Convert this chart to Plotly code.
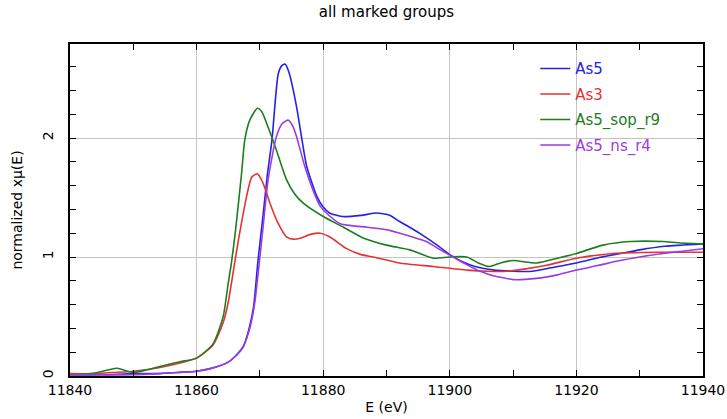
import plotly.graph_objects as go

# ---- data ----
as5_E = [11840, 11845, 11850, 11854, 11857, 11860, 11862, 11864.8, 11866, 11867.4, 11868.3, 11869,
         11869.7, 11870.5, 11871.2, 11871.9, 11872.9, 11873.5, 11874, 11874.6, 11875.8, 11876.6,
         11877.4, 11879, 11880, 11881, 11883, 11886, 11888.4, 11890.5, 11892, 11894, 11895.8, 11898,
         11900, 11902, 11904, 11907, 11910, 11913, 11916, 11920, 11924, 11927, 11930, 11934, 11940]
as5_mu = [0.01, 0.01, 0.02, 0.02, 0.03, 0.04, 0.06, 0.11, 0.16, 0.25, 0.40, 0.58,
          0.97, 1.35, 1.70, 1.98, 2.54, 2.61, 2.62, 2.55, 2.26, 2.00,
          1.76, 1.51, 1.42, 1.37, 1.34, 1.35, 1.37, 1.35, 1.30, 1.24, 1.18, 1.10,
          1.02, 0.96, 0.92, 0.89, 0.88, 0.88, 0.91, 0.95, 1.00, 1.03, 1.06, 1.09, 1.11]

as3_E = [11840, 11843.5, 11847, 11850, 11854, 11857.4, 11860, 11862.6, 11864.2, 11865, 11865.8,
         11866.6, 11867.9, 11868.7, 11869.6, 11870.5, 11871.6, 11872.9, 11874.2, 11875.3, 11876.5,
         11878, 11879.5, 11881, 11883.7, 11886, 11887.9, 11892, 11897.4, 11902.7, 11906, 11909,
         11912, 11915.3, 11920, 11925.8, 11933, 11940]
as3_mu = [0.02, 0.02, 0.03, 0.04, 0.07, 0.11, 0.15, 0.26, 0.45, 0.62, 0.88,
          1.14, 1.51, 1.67, 1.70, 1.62, 1.45, 1.28, 1.17, 1.15, 1.16,
          1.19, 1.20, 1.17, 1.07, 1.02, 1.00, 0.95, 0.92, 0.89, 0.88, 0.88,
          0.90, 0.93, 0.99, 1.03, 1.04, 1.04]

sop_E = [11840, 11843.5, 11846, 11847.4, 11848.5, 11850, 11852, 11854.2, 11857.4, 11860, 11862.6,
         11864.2, 11865, 11865.5, 11866.1, 11867.1, 11867.6, 11868.4, 11869.6, 11870.3, 11871.3,
         11872.6, 11874.2, 11875.5, 11876.9, 11880, 11883.2, 11886.3, 11890, 11893.7, 11897.4,
         11900, 11902.7, 11904.5, 11906.3, 11908, 11910, 11913.7, 11917, 11920, 11924.2, 11928.5,
         11933.7, 11936, 11940]
sop_mu = [0.01, 0.02, 0.05, 0.065, 0.05, 0.03, 0.05, 0.08, 0.12, 0.15, 0.27,
          0.50, 0.78, 0.95, 1.20, 1.70, 1.98, 2.15, 2.25, 2.22, 2.09,
          1.90, 1.65, 1.53, 1.45, 1.34, 1.25, 1.16, 1.10, 1.06, 0.99,
          1.00, 1.00, 0.95, 0.92, 0.95, 0.97, 0.95, 0.99, 1.03, 1.10, 1.13,
          1.13, 1.12, 1.11]

ns_E = [11840, 11845, 11850, 11854, 11857, 11860, 11862, 11864.8, 11866, 11867.4, 11868.5, 11869.2,
        11869.8, 11870.5, 11871.3, 11872.6, 11873.5, 11874.5, 11875.2, 11875.8, 11877.1, 11878.4,
        11879.5, 11880.5, 11882.7, 11886.9, 11890, 11892.1, 11894, 11896.3, 11898.5, 11900.5,
        11902.5, 11904.8, 11907, 11909, 11910, 11913.7, 11917, 11920, 11923.5, 11926.9, 11930,
        11933.7, 11937, 11940]
ns_mu = [0.01, 0.01, 0.01, 0.02, 0.03, 0.04, 0.06, 0.11, 0.16, 0.25, 0.42, 0.62,
         0.90, 1.25, 1.65, 2.01, 2.12, 2.15, 2.10, 2.01, 1.76, 1.56,
         1.43, 1.37, 1.28, 1.25, 1.23, 1.20, 1.17, 1.13, 1.06, 1.00,
         0.94, 0.88, 0.84, 0.82, 0.81, 0.82, 0.85, 0.89, 0.93, 0.97, 1.00,
         1.03, 1.05, 1.07]

series_names = ["As5", "As3", "As5_sop_r9", "As5_ns_r4"]
series_colors = ["#2323e6", "#e63232", "#1e7d1e", "#9b3ce0"]

x_ticks = [11840, 11860, 11880, 11900, 11920, 11940]
y_ticks = [0, 1, 2]

FONT = "DejaVu Sans"

fig = go.Figure()
for name, color, xs, ys in zip(series_names, series_colors,
                               [as5_E, as3_E, sop_E, ns_E],
                               [as5_mu, as3_mu, sop_mu, ns_mu]):
    fig.add_trace(go.Scatter(
        x=xs, y=ys, mode="lines",
        line=dict(color=color, width=1.6, shape="spline", smoothing=0.6),
        name=f"<span style='color:{color}'>{name}</span>",
        legendgroup=name,
    ))

axis_common = dict(
    showline=True, linecolor="black", linewidth=1.5, mirror="allticks",
    ticks="inside", ticklen=6, tickcolor="black", tickwidth=1.2,
    showgrid=True, gridcolor="#c4c4c4", gridwidth=1.2,
    zeroline=False, automargin=False,
    tickfont=dict(family=FONT, size=14, color="black"),
)

fig.update_layout(
    width=727, height=419,
    margin=dict(l=70, r=24, t=44, b=43, autoexpand=False),
    paper_bgcolor="white", plot_bgcolor="white",
    title=dict(text="all marked groups", x=0.5, xref="paper", xanchor="center",
               y=0.985, yanchor="top",
               font=dict(family=FONT, size=15, color="black")),
    xaxis=dict(range=[11840, 11940], tickvals=x_ticks, ticktext=[str(v) for v in x_ticks],
               minor=dict(dtick=10, tick0=11840, ticks="inside", ticklen=6, tickcolor="black", showgrid=False),
               title=dict(text="E (eV)", font=dict(family=FONT, size=14, color="black"), standoff=6),
               **axis_common),
    yaxis=dict(range=[0, 2.79], tickvals=y_ticks, ticktext=[str(v) for v in y_ticks], tickangle=-90,
               ticklabelstandoff=10,
               minor=dict(dtick=0.2, tick0=0, ticks="inside", ticklen=6, tickcolor="black", showgrid=False),
               title=dict(text="normalized xμ(E)", font=dict(family=FONT, size=14, color="black"), standoff=14),
               **axis_common),
    legend=dict(x=0.735, y=0.975, xanchor="left", yanchor="top",
                bgcolor="rgba(0,0,0,0)", borderwidth=0,
                tracegroupgap=3,
                font=dict(family=FONT, size=15)),
    showlegend=True,
)

fig.write_html("out.html", config={"displayModeBar": False},
               post_script="document.body.style.margin='0';")
